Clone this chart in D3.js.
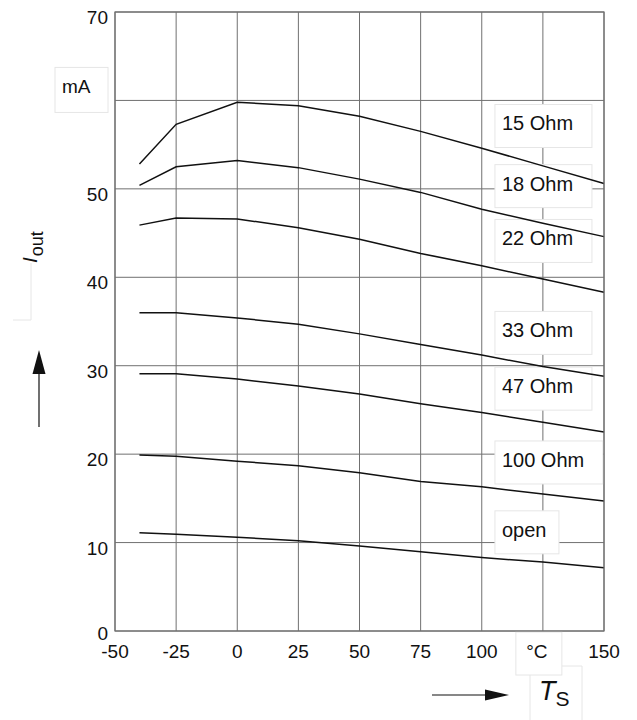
<!DOCTYPE html>
<html>
<head>
<meta charset="utf-8">
<script src="https://cdn.jsdelivr.net/npm/d3@7"></script>
<style>
  body { margin: 0; background: #fff; }
  text { font-family: "Liberation Sans", Arial, sans-serif; fill: #111; }
</style>
</head>
<body>
<div id="chart"></div>
<script>
var width = 637, height = 720;
var margin = {top: 12, right: 33, bottom: 89, left: 115};

// temperature points (°C)
var temps = [-40, -25, 0, 25, 50, 75, 100, 125, 150];

// output current (mA) per load resistor
var ohm15  = [52.8, 57.3, 59.8, 59.4, 58.2, 56.5, 54.6, 52.6, 50.6];
var ohm18  = [50.4, 52.5, 53.2, 52.4, 51.1, 49.6, 47.7, 46.1, 44.6];
var ohm22  = [45.9, 46.7, 46.6, 45.6, 44.3, 42.7, 41.3, 39.8, 38.3];
var ohm33  = [36.0, 36.0, 35.4, 34.7, 33.6, 32.4, 31.2, 29.9, 28.8];
var ohm47  = [29.1, 29.1, 28.5, 27.7, 26.8, 25.7, 24.7, 23.6, 22.5];
var ohm100 = [19.9, 19.75, 19.2, 18.7, 17.9, 16.9, 16.3, 15.5, 14.7];
var open   = [11.1, 10.95, 10.6, 10.2, 9.6, 8.95, 8.3, 7.8, 7.15];

var seriesNames = ["15 Ohm", "18 Ohm", "22 Ohm", "33 Ohm", "47 Ohm", "100 Ohm", "open"];
var seriesVals = [ohm15, ohm18, ohm22, ohm33, ohm47, ohm100, open];
// mA value at each label's text baseline
var labelY = [56.6, 49.8, 43.6, 33.2, 26.9, 18.55, 10.65];

var xTicks = [-50, -25, 0, 25, 50, 75, 100, 125, 150];
var xTickLabels = ["-50", "-25", "0", "25", "50", "75", "100", "°C", "150"];
var yTicks = [0, 10, 20, 30, 40, 50, 60, 70];
var yTickLabels = ["0", "10", "20", "30", "40", "50", "mA", "70"];

var svg = d3.select("#chart")
  .append("svg")
  .attr("width", width)
  .attr("height", height);

var xScale = d3.scaleLinear()
  .domain([-50, 150])
  .range([margin.left, width - margin.right]);

var yScale = d3.scaleLinear()
  .domain([0, 70])
  .range([height - margin.bottom, margin.top]);

var gridColor = "#707070";
var faint = "#e6e6e6";

// grid
svg.append("g")
  .attr("class", "grid")
  .selectAll("line")
  .data(xTicks)
  .enter()
  .append("line")
  .attr("x1", d => xScale(d))
  .attr("x2", d => xScale(d))
  .attr("y1", yScale(0))
  .attr("y2", yScale(70))
  .style("stroke", gridColor)
  .style("stroke-width", 1);

svg.append("g")
  .attr("class", "grid")
  .selectAll("line")
  .data(yTicks)
  .enter()
  .append("line")
  .attr("x1", xScale(-50))
  .attr("x2", xScale(150))
  .attr("y1", d => yScale(d))
  .attr("y2", d => yScale(d))
  .style("stroke", gridColor)
  .style("stroke-width", 1);

// label boxes (white, faint border) over the grid
var boxG = svg.append("g").attr("class", "label-boxes");
var boxX = xScale(105.4);

seriesNames.forEach(function(name, i) {
  var by = yScale(labelY[i]);
  var bw = name === "100 Ohm" ? 108 : (name === "open" ? 64 : 97);
  boxG.append("rect")
    .attr("x", boxX)
    .attr("y", by - 26)
    .attr("width", bw)
    .attr("height", 43)
    .style("fill", "#fff")
    .style("stroke", faint);
  boxG.append("text")
    .attr("x", boxX + 7)
    .attr("y", by)
    .style("font-size", "20px")
    .text(name);
});

// curves
var line = d3.line()
  .x(d => xScale(d[0]))
  .y(d => yScale(d[1]));

svg.append("g")
  .attr("class", "lines")
  .selectAll("path")
  .data(seriesVals)
  .enter()
  .append("path")
  .attr("d", vals => line(vals.map((v, i) => [temps[i], v])))
  .style("fill", "none")
  .style("stroke", "#111")
  .style("stroke-width", 1.5);

// y tick labels
yTicks.forEach(function(t, i) {
  var lab = yTickLabels[i];
  if (lab === "mA") {
    svg.append("rect")
      .attr("x", 55).attr("y", yScale(t) - 33)
      .attr("width", 53).attr("height", 45)
      .style("fill", "#fff").style("stroke", faint);
    svg.append("text")
      .attr("x", 62).attr("y", yScale(t) - 7)
      .style("font-size", "19px")
      .text(lab);
  } else {
    svg.append("text")
      .attr("x", margin.left - 7)
      .attr("y", yScale(t) + (t === 0 ? 9 : 12))
      .attr("text-anchor", "end")
      .style("font-size", "19px")
      .text(lab);
  }
});

// x title box sits under the °C box
svg.append("path")
  .attr("d", "M530,720 L530,666 L582,666 L582,720")
  .style("fill", "none")
  .style("stroke", faint);

// x tick labels
xTicks.forEach(function(t, i) {
  var lab = xTickLabels[i];
  var dx = 0;
  if (lab === "°C") {
    svg.append("rect")
      .attr("x", xScale(t) - 27).attr("y", yScale(0) + 1)
      .attr("width", 46).attr("height", 43)
      .style("fill", "#fff").style("stroke", faint);
    dx = -6;
  }
  svg.append("text")
    .attr("x", xScale(t) + dx)
    .attr("y", yScale(0) + 27)
    .attr("text-anchor", "middle")
    .style("font-size", "19px")
    .text(lab);
});

// plot border on top
svg.append("rect")
  .attr("x", xScale(-50))
  .attr("y", yScale(70))
  .attr("width", xScale(150) - xScale(-50))
  .attr("height", yScale(0) - yScale(70))
  .style("fill", "none")
  .style("stroke", gridColor)
  .style("stroke-width", 1.2);

// y axis title: I_out with arrow
svg.append("path")
  .attr("d", "M31,263 L31,320 L13,320")
  .style("fill", "none")
  .style("stroke", faint);

var yTitle = svg.append("text")
  .attr("transform", "translate(37,263) rotate(-90)")
  .style("font-size", "21px");
yTitle.append("tspan").style("font-style", "italic").text("I");
yTitle.append("tspan").attr("dy", 6).attr("dx", 1).style("font-size", "18px").text("out");

svg.append("line")
  .attr("x1", 39).attr("x2", 39)
  .attr("y1", 427).attr("y2", 370)
  .style("stroke", "#111").style("stroke-width", 1.2);
svg.append("path")
  .attr("d", "M39,350 L45.5,374 L32.5,374 Z")
  .style("fill", "#111");

// x axis title: arrow with T_S
svg.append("line")
  .attr("x1", 432).attr("x2", 490)
  .attr("y1", 695).attr("y2", 695)
  .style("stroke", "#111").style("stroke-width", 1.2);
svg.append("path")
  .attr("d", "M509,695 L485,689.5 L485,700.5 Z")
  .style("fill", "#111");

var xTitle = svg.append("text")
  .attr("x", 539)
  .attr("y", 700)
  .style("font-size", "27px");
xTitle.append("tspan").style("font-style", "italic").text("T");
xTitle.append("tspan").attr("dy", 6).style("font-size", "21px").text("S");
</script>
</body>
</html>
